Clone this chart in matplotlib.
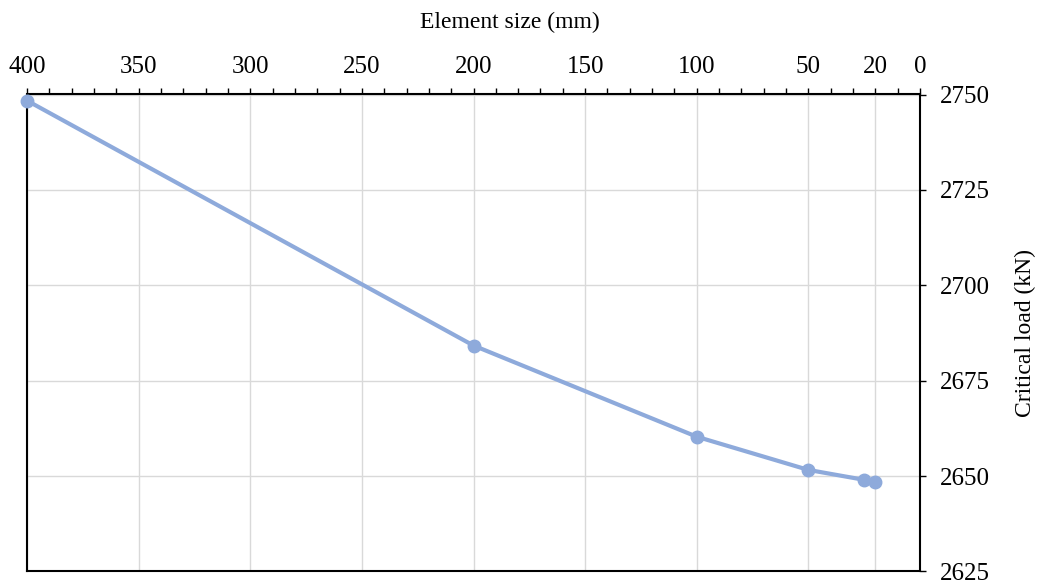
import matplotlib.pyplot as plt
from matplotlib.ticker import MultipleLocator

plt.rcParams['font.family'] = ['Liberation Serif', 'DejaVu Serif']

element_size = [400, 200, 100, 50, 25, 20]
critical_load = [2748.4, 2684.2, 2660.3, 2651.6, 2649.0, 2648.5]

x_ticks = [400, 350, 300, 250, 200, 150, 100, 50, 20, 0]
y_ticks = [2625, 2650, 2675, 2700, 2725, 2750]

fig = plt.figure(figsize=(10.37, 5.81), dpi=100)
ax = fig.add_axes([27/1037, 1 - 571.4/581, (920-27)/1037, (571.4-94.5)/581])

ax.plot(element_size, critical_load, color='#8eaadb', lw=3, marker='o',
        markersize=9, zorder=3, clip_on=False)

ax.set_xlim(400, 0)
ax.set_ylim(2625, 2750)
ax.set_xticks(x_ticks)
ax.xaxis.set_minor_locator(MultipleLocator(10))
ax.set_yticks(y_ticks)

ax.xaxis.tick_top()
ax.xaxis.set_label_position('top')
ax.yaxis.tick_right()
ax.yaxis.set_label_position('right')

ax.tick_params(axis='x', which='both', direction='out', length=4, width=1,
               labelsize=18, pad=8, color='black')
ax.tick_params(axis='y', which='both', direction='out', length=4, width=1,
               labelsize=18, pad=10, color='black')

ax.grid(True, which='major', color='#d9d9d9', lw=1)
ax.set_axisbelow(True)

for side in ['top', 'bottom', 'left', 'right']:
    ax.spines[side].set_color('black')
    ax.spines[side].set_linewidth(1.5)

ax.set_xlabel('Element size (mm)', fontsize=17)
ax.set_ylabel('Critical load (kN)', fontsize=17)
ax.xaxis.label.set_va('center')
ax.xaxis.label.set_ha('center')
ax.yaxis.label.set_va('center')
ax.yaxis.label.set_ha('center')
ax.xaxis.set_label_coords(0.541, 1.152)
ax.yaxis.set_label_coords(1.1176, 0.5)

fig.savefig('out.png', dpi=100)
